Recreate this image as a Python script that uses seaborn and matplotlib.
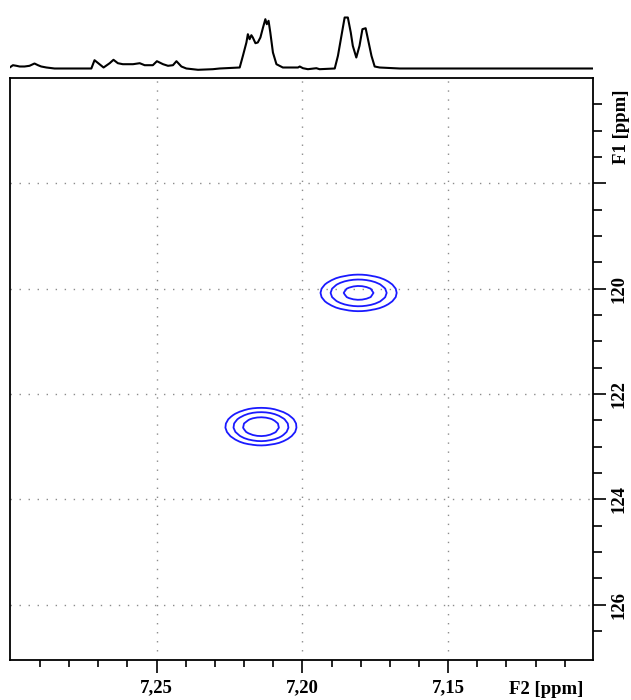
import numpy as np
import pandas as pd
import matplotlib
matplotlib.use("Agg")
import matplotlib.pyplot as plt
from matplotlib.ticker import FixedLocator, FixedFormatter
import seaborn as sns

# F2 projection shown above the map (ppm, height in arbitrary units)
trace_ppm = [7.3004, 7.2993, 7.2981, 7.2970, 7.2953, 7.2936, 7.2919, 7.2907, 7.2896,
             7.2878, 7.2850, 7.2724, 7.2713, 7.2696, 7.2682, 7.2661, 7.2648, 7.2633,
             7.2616, 7.2581, 7.2558, 7.2541, 7.2513, 7.2499, 7.2478, 7.2461, 7.2444,
             7.2432, 7.2415, 7.2398, 7.2358, 7.2307, 7.2284, 7.2215, 7.2204, 7.2192,
             7.2187, 7.2181, 7.2175, 7.2170, 7.2161, 7.2153, 7.2144, 7.2135, 7.2127,
             7.2122, 7.2116, 7.2110, 7.2101, 7.2089, 7.2067, 7.2015, 7.2009, 7.1998,
             7.1981, 7.1952, 7.1941, 7.1889, 7.1878, 7.1866, 7.1855, 7.1844, 7.1834,
             7.1827, 7.1815, 7.1804, 7.1794, 7.1783, 7.1775, 7.1763, 7.1752, 7.1735,
             7.1666, 7.1004]
trace_int = [1.0, 3.3, 2.7, 2.0, 2.0, 2.7, 5.0, 3.3, 2.0,
             1.0, 0.0, 0.0, 8.3, 4.3, 1.0, 5.3, 8.7, 5.3,
             4.3, 4.3, 5.3, 3.3, 3.3, 7.3, 4.3, 2.7, 3.3,
             7.3, 2.0, 0.0, -1.3, -0.7, 0.0, 1.0, 12.7, 26.0,
             34.3, 29.3, 33.3, 31.0, 25.3, 26.0, 31.0, 41.0, 49.3,
             44.3, 47.7, 36.0, 16.0, 4.3, 1.0, 1.0, 2.0, 0.3,
             -0.7, 0.3, -0.7, 0.0, 12.7, 32.7, 51.0, 51.0, 36.0,
             22.7, 11.0, 22.7, 39.3, 40.3, 29.3, 12.7, 2.0, 1.0,
             0.0, 0.0]

# cross peaks of the 2D map
peak_f2 = [7.1807, 7.2142]
peak_f1 = [120.08, 122.62]
peak_amp = [4.55, 5.61]
peak_sd_f2 = [0.00749, 0.00656]
peak_sd_f1 = [0.197, 0.190]
contour_levels = [1.0, 2.0, 3.6]

f2_ticks = [7.25, 7.20, 7.15, 7.10]
f2_labels = ['7,25', '7,20', '7,15', '']
f1_ticks = [118, 120, 122, 124, 126]
f1_labels = ['', '120', '122', '124', '126']

sns.set_theme(style='white')
plt.rcParams['font.family'] = ['Liberation Serif', 'DejaVu Serif']
plt.rcParams['font.weight'] = 'bold'
plt.rcParams['text.color'] = 'black'
plt.rcParams['xtick.color'] = 'black'
plt.rcParams['ytick.color'] = 'black'

W, H = 631, 700
fig = plt.figure(figsize=(W / 100, H / 100), dpi=100)
fig.patch.set_facecolor('white')

x0, x1 = 10, 593
ax = fig.add_axes([x0 / W, 1 - 660 / H, (x1 - x0) / W, (660 - 78) / H])
ax_top = fig.add_axes([x0 / W, 1 - 72 / H, (x1 - x0) / W, 72 / H])

XLIM = (7.3003, 7.1003)
YLIM = (127.05, 116.0)

# 2D map
gx = np.arange(7.10, 7.3005, 0.0015)
gy = np.arange(116.0, 127.1, 0.08)
X, Y = np.meshgrid(gx, gy)
Z = np.zeros_like(X)
for c2, c1, a, s2, s1 in zip(peak_f2, peak_f1, peak_amp, peak_sd_f2, peak_sd_f1):
    Z += a * np.exp(-0.5 * ((X - c2) / s2) ** 2 - 0.5 * ((Y - c1) / s1) ** 2)
ax.contour(X, Y, Z, levels=contour_levels, colors='#1a1aff', linewidths=1.3)

ax.set_xlim(*XLIM)
ax.set_ylim(*YLIM)
ax.set_facecolor('white')
for sp in ax.spines.values():
    sp.set_visible(True)
    sp.set_color('black')
    sp.set_linewidth(1.3)

ax.xaxis.set_major_locator(FixedLocator(f2_ticks))
ax.xaxis.set_major_formatter(FixedFormatter(f2_labels))
ax.xaxis.set_minor_locator(FixedLocator([v for v in np.round(np.arange(7.29, 7.105, -0.01), 2)
                                         if round(v * 100) % 5 != 0]))
ax.yaxis.tick_right()
ax.yaxis.set_major_locator(FixedLocator(f1_ticks))
ax.yaxis.set_major_formatter(FixedFormatter(f1_labels))
ax.yaxis.set_minor_locator(FixedLocator([v for v in np.arange(116.5, 126.6, 0.5)
                                         if v % 2 != 0]))

ax.tick_params(axis='x', which='major', bottom=True, top=False, direction='out',
               length=9, width=1.2, pad=5, labelsize=13.5)
ax.tick_params(axis='x', which='minor', bottom=True, top=False, direction='out',
               length=5, width=1.2)
ax.tick_params(axis='y', which='major', right=True, left=False, direction='out',
               length=9.5, width=1.2, pad=3, labelsize=13.5, labelrotation=90)
ax.tick_params(axis='y', which='minor', right=True, left=False, direction='out',
               length=6.5, width=1.2)
for lbl in ax.get_yticklabels():
    lbl.set_va('center')

ax.grid(True, which='major', color='#8c8c8c', linestyle=(0, (1, 5.5)), linewidth=1.0)
ax.set_xlabel('')
ax.set_ylabel('')

# projection on top
df = pd.DataFrame({'ppm': trace_ppm, 'intensity': trace_int})
sns.lineplot(data=df, x='ppm', y='intensity', ax=ax_top, color='black',
             linewidth=1.5, estimator=None, sort=False)
ax_top.set_xlim(*XLIM)
ax_top.set_ylim(-3.5, 68.5)
ax_top.axis('off')

fig.text(546 / W, 1 - 694 / H, 'F2 [ppm]', ha='center', va='baseline',
         fontsize=13.5, fontweight='bold')
fig.text(621 / W, 1 - 127 / H, 'F1 [ppm]', ha='center', va='center',
         rotation=90, fontsize=13.5, fontweight='bold')

fig.savefig('out.png', dpi=100, facecolor='white')
